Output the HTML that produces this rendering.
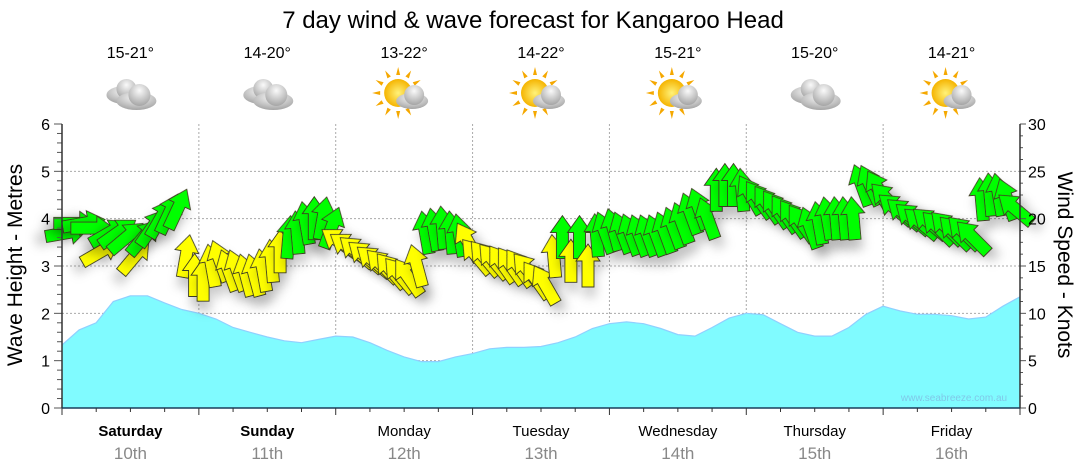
<!DOCTYPE html>
<html><head><meta charset="utf-8">
<style>
body{margin:0;background:#fff;}
svg{display:block;font-family:"Liberation Sans",Arial,sans-serif;}
</style></head>
<body>
<svg id="chart" width="1080" height="475" viewBox="0 0 1080 475" xmlns="http://www.w3.org/2000/svg">
<defs>
<filter id="sh" x="-50%" y="-50%" width="200%" height="250%"><feDropShadow dx="2" dy="10" stdDeviation="5" flood-color="#000" flood-opacity="0.18"/></filter>
<radialGradient id="cg" cx="50%" cy="30%" r="70%"><stop offset="0" stop-color="#fafafa"/><stop offset="1" stop-color="#a5a5a5"/></radialGradient>
<radialGradient id="sg" cx="50%" cy="50%" r="50%"><stop offset="0" stop-color="#fff27a"/><stop offset="1" stop-color="#f5b400"/></radialGradient>
</defs>
<text x="533" y="28" font-size="24" text-anchor="middle" fill="#000">7 day wind &amp; wave forecast for Kangaroo Head</text>
<g id="gridG"></g>
<g id="wavesG"></g>
<g id="windsG"></g>
<g id="axesG"></g>
<g id="topG"></g>
<text transform="translate(22,265) rotate(-90)" font-size="21" text-anchor="middle">Wave Height - Metres</text>
<text transform="translate(1058,265) rotate(90)" font-size="21" text-anchor="middle">Wind Speed - Knots</text>
<text x="954" y="401" font-size="10" fill="#7fc8e8" text-anchor="middle">www.seabreeze.com.au</text>
</svg>
<script>
const days = ["Saturday","Sunday","Monday","Tuesday","Wednesday","Thursday","Friday"];
const dates = ["10th","11th","12th","13th","14th","15th","16th"];
const temps = ["15-21°","14-20°","13-22°","14-22°","15-21°","15-20°","14-21°"];
const icons = ["cloud","cloud","sun","sun","sun","cloud","sun"];
const waveTicks = [0,1,2,3,4,5,6];
const windTicks = [0,5,10,15,20,25,30];
// wave height every 3 hours (m)
const waveHeights = [1.33,1.65,1.8,2.25,2.37,2.37,2.22,2.08,2.0,1.88,1.7,1.6,1.5,1.42,1.38,1.45,1.52,1.5,1.38,1.22,1.08,0.98,0.98,1.08,1.15,1.25,1.28,1.28,1.3,1.38,1.5,1.68,1.78,1.82,1.78,1.68,1.55,1.52,1.7,1.9,2.0,1.97,1.78,1.6,1.52,1.52,1.7,1.98,2.15,2.05,1.98,1.98,1.95,1.88,1.92,2.15,2.35];
// wind speed (knots), 16 per day
const windSpeeds = [
18.5,19.5,19.5,19,16.5,18.5,18.5,18,16,18,19,20,20.5,21,16,14,
13.5,15,15.5,14.5,14.5,14,14,14.5,15.5,16.5,18,18.5,19.5,20,20,19,
17.5,17,16.5,16,15.5,15,14.5,14,13.8,15,18.5,18.8,19,18.5,18.2,17.5,
16,15.8,15.5,15.2,15,14.8,14.5,13.5,13,16,18,15.5,18,15,18.2,18.5,
18.8,18.5,18.3,18.2,18.2,18.2,18.5,19,19.5,20.5,21,20,23,23.5,23.5,23,
22.5,22,21.5,21,20.5,20,19.5,19,19.5,20,20,20,20,23.5,23.5,23,
22,21,20.5,20,19.5,19.5,19,19,18.5,18.5,18,22,22.5,22.5,22,21];
// arrow heading (degrees clockwise from up)
const windDirs = [
80,90,80,90,60,60,55,50,40,40,35,30,25,25,10,0,
0,-10,-20,-20,-20,-15,-15,-10,-5,0,5,-5,-10,0,10,20,
-55,-55,-50,-50,-50,-45,-40,-40,-35,-15,-10,-10,-5,-5,-10,-30,
-40,-40,-40,-35,-35,-35,-40,-35,-30,-5,0,0,0,0,-5,-20,
-15,-20,-20,-20,-20,-20,-20,-20,-20,-20,-20,-20,0,0,0,-5,
-30,-35,-35,-35,-35,-35,-35,-20,-10,-10,-5,-5,-5,-20,-25,-30,
-45,-50,-50,-50,-50,-50,-45,-45,-45,-45,-45,-5,-5,-10,-20,-50];

const NS="http://www.w3.org/2000/svg";
const X0=62,X1=1020,Y0=408,Y1=124;
const xDay=d=>X0+d*(X1-X0)/7;
const yWave=v=>Y0-v/6*(Y0-Y1);
const yWind=v=>Y0-v/30*(Y0-Y1);
function mk(tag,attrs,parent){const e=document.createElementNS(NS,tag);for(const k in attrs)e.setAttribute(k,attrs[k]);parent.appendChild(e);return e;}
const gridG=document.getElementById('gridG'),axesG=document.getElementById('axesG'),wavesG=document.getElementById('wavesG'),windsG=document.getElementById('windsG'),topG=document.getElementById('topG');

waveTicks.forEach(t=>{
  if(t>0&&t<6){const l=mk('line',{x1:X0,x2:X1,y1:yWave(t),y2:yWave(t),stroke:'#aaa','stroke-dasharray':'2,2'},gridG);
  
  }
  const tx=mk('text',{x:50,y:yWave(t)+6,'font-size':16,'text-anchor':'end'},axesG);tx.textContent=t;
  
  
});
for(let k=0;k<=30;k++){const v=k*0.2;mk('line',{x1:k%5===0?54:57,x2:X0,y1:yWave(v),y2:yWave(v),stroke:'#555'},axesG);}
windTicks.forEach(t=>{
  const tx=mk('text',{x:1028,y:yWind(t)+6,'font-size':16},axesG);tx.textContent=t;
  
  
});
for(let k=0;k<=24;k++){const v=k*1.25;mk('line',{x1:X1,x2:k%4===0?1026:1023,y1:yWind(v),y2:yWind(v),stroke:'#555'},axesG);}
for(let d=1;d<7;d++){const l=mk('line',{x1:xDay(d),x2:xDay(d),y1:Y1,y2:Y0,stroke:'#aaa','stroke-dasharray':'2,2'},gridG);
  
  }

// waves
const wpts=waveHeights.map((v,i)=>[X0+i*(X1-X0)/(waveHeights.length-1),yWave(v)]);
const dA='M'+X0+','+Y0+' '+wpts.map(p=>'L'+p[0].toFixed(1)+','+p[1].toFixed(1)).join(' ')+' L'+X1+','+Y0+'Z';
const wa=mk('path',{d:dA,fill:'#80fbff'},wavesG);


const wl=mk('path',{d:'M'+wpts.map(p=>p[0].toFixed(1)+','+p[1].toFixed(1)).join(' L'),fill:'none',stroke:'#8fd0ff','stroke-width':1.2},wavesG);



// axes lines
mk('line',{x1:X0,x2:X0,y1:Y1,y2:Y0,stroke:'#333','stroke-width':1.5},axesG);
mk('line',{x1:X1,x2:X1,y1:Y1,y2:Y0,stroke:'#333','stroke-width':1.5},axesG);
mk('line',{x1:X0,x2:X1,y1:Y0,y2:Y0,stroke:'#1a3d5c','stroke-width':1.5},axesG);
for(let q=0;q<=28;q++){const x=X0+q*(X1-X0)/28;mk('line',{x1:x,x2:x,y1:Y0,y2:q%4===0?Y0+7:Y0+4,stroke:'#333'},axesG);}

// winds
const nW=windSpeeds.length,stepW=(X1-X0)/nW;
const arrowD="M0,-22 L12,-5 L6,-5 L6,21 L-6,21 L-6,-5 L-12,-5 Z";
windSpeeds.forEach((s,i)=>{
  const x=X0+stepW*(i+0.5),y=yWind(s);
  const p=mk('path',{d:arrowD,transform:`translate(${x.toFixed(1)},${y.toFixed(1)}) rotate(${windDirs[i]})`,fill:s>=17.8?'#00ff00':'#ffff00',stroke:'#3c3c20','stroke-width':0.9,filter:'url(#sh)'},windsG);
  
  
});

// day labels + weather
days.forEach((d,i)=>{
  const cx=(xDay(i)+xDay(i+1))/2;
  const t=mk('text',{x:cx,y:436,'font-size':15,'text-anchor':'middle','font-weight':i<2?'bold':'normal'},axesG);t.textContent=d;
  
  
  const t2=mk('text',{x:cx,y:459,'font-size':17,'text-anchor':'middle',fill:'#888'},axesG);t2.textContent=dates[i];
  
  
  const t3=mk('text',{x:cx,y:58,'font-size':16,'text-anchor':'middle'},topG);t3.textContent=temps[i];
  
  
  const g=mk('g',{transform:`translate(${cx},95)`},topG);
  
  
  if(icons[i]==='sun'){
    for(let a=0;a<360;a+=30){mk('path',{d:'M-2,-18 L2,-18 L0,-26Z',fill:'#f5a800',transform:`translate(-6,-2) rotate(${a})`},g);}
    mk('circle',{cx:-6,cy:-2,r:14,fill:'url(#sg)'},g);
    mk('ellipse',{cx:8,cy:6,rx:16,ry:8,fill:'url(#cg)'},g);
    mk('circle',{cx:10,cy:0,r:10,fill:'url(#cg)'},g);
  }else{
    mk('ellipse',{cx:-6,cy:0,rx:18,ry:9,fill:'url(#cg)'},g);
    mk('circle',{cx:-4,cy:-6,r:10,fill:'url(#cg)'},g);
    mk('ellipse',{cx:6,cy:6,rx:20,ry:9,fill:'url(#cg)'},g);
    mk('circle',{cx:9,cy:0,r:11,fill:'url(#cg)'},g);
  }
});
</script>
</body></html>
